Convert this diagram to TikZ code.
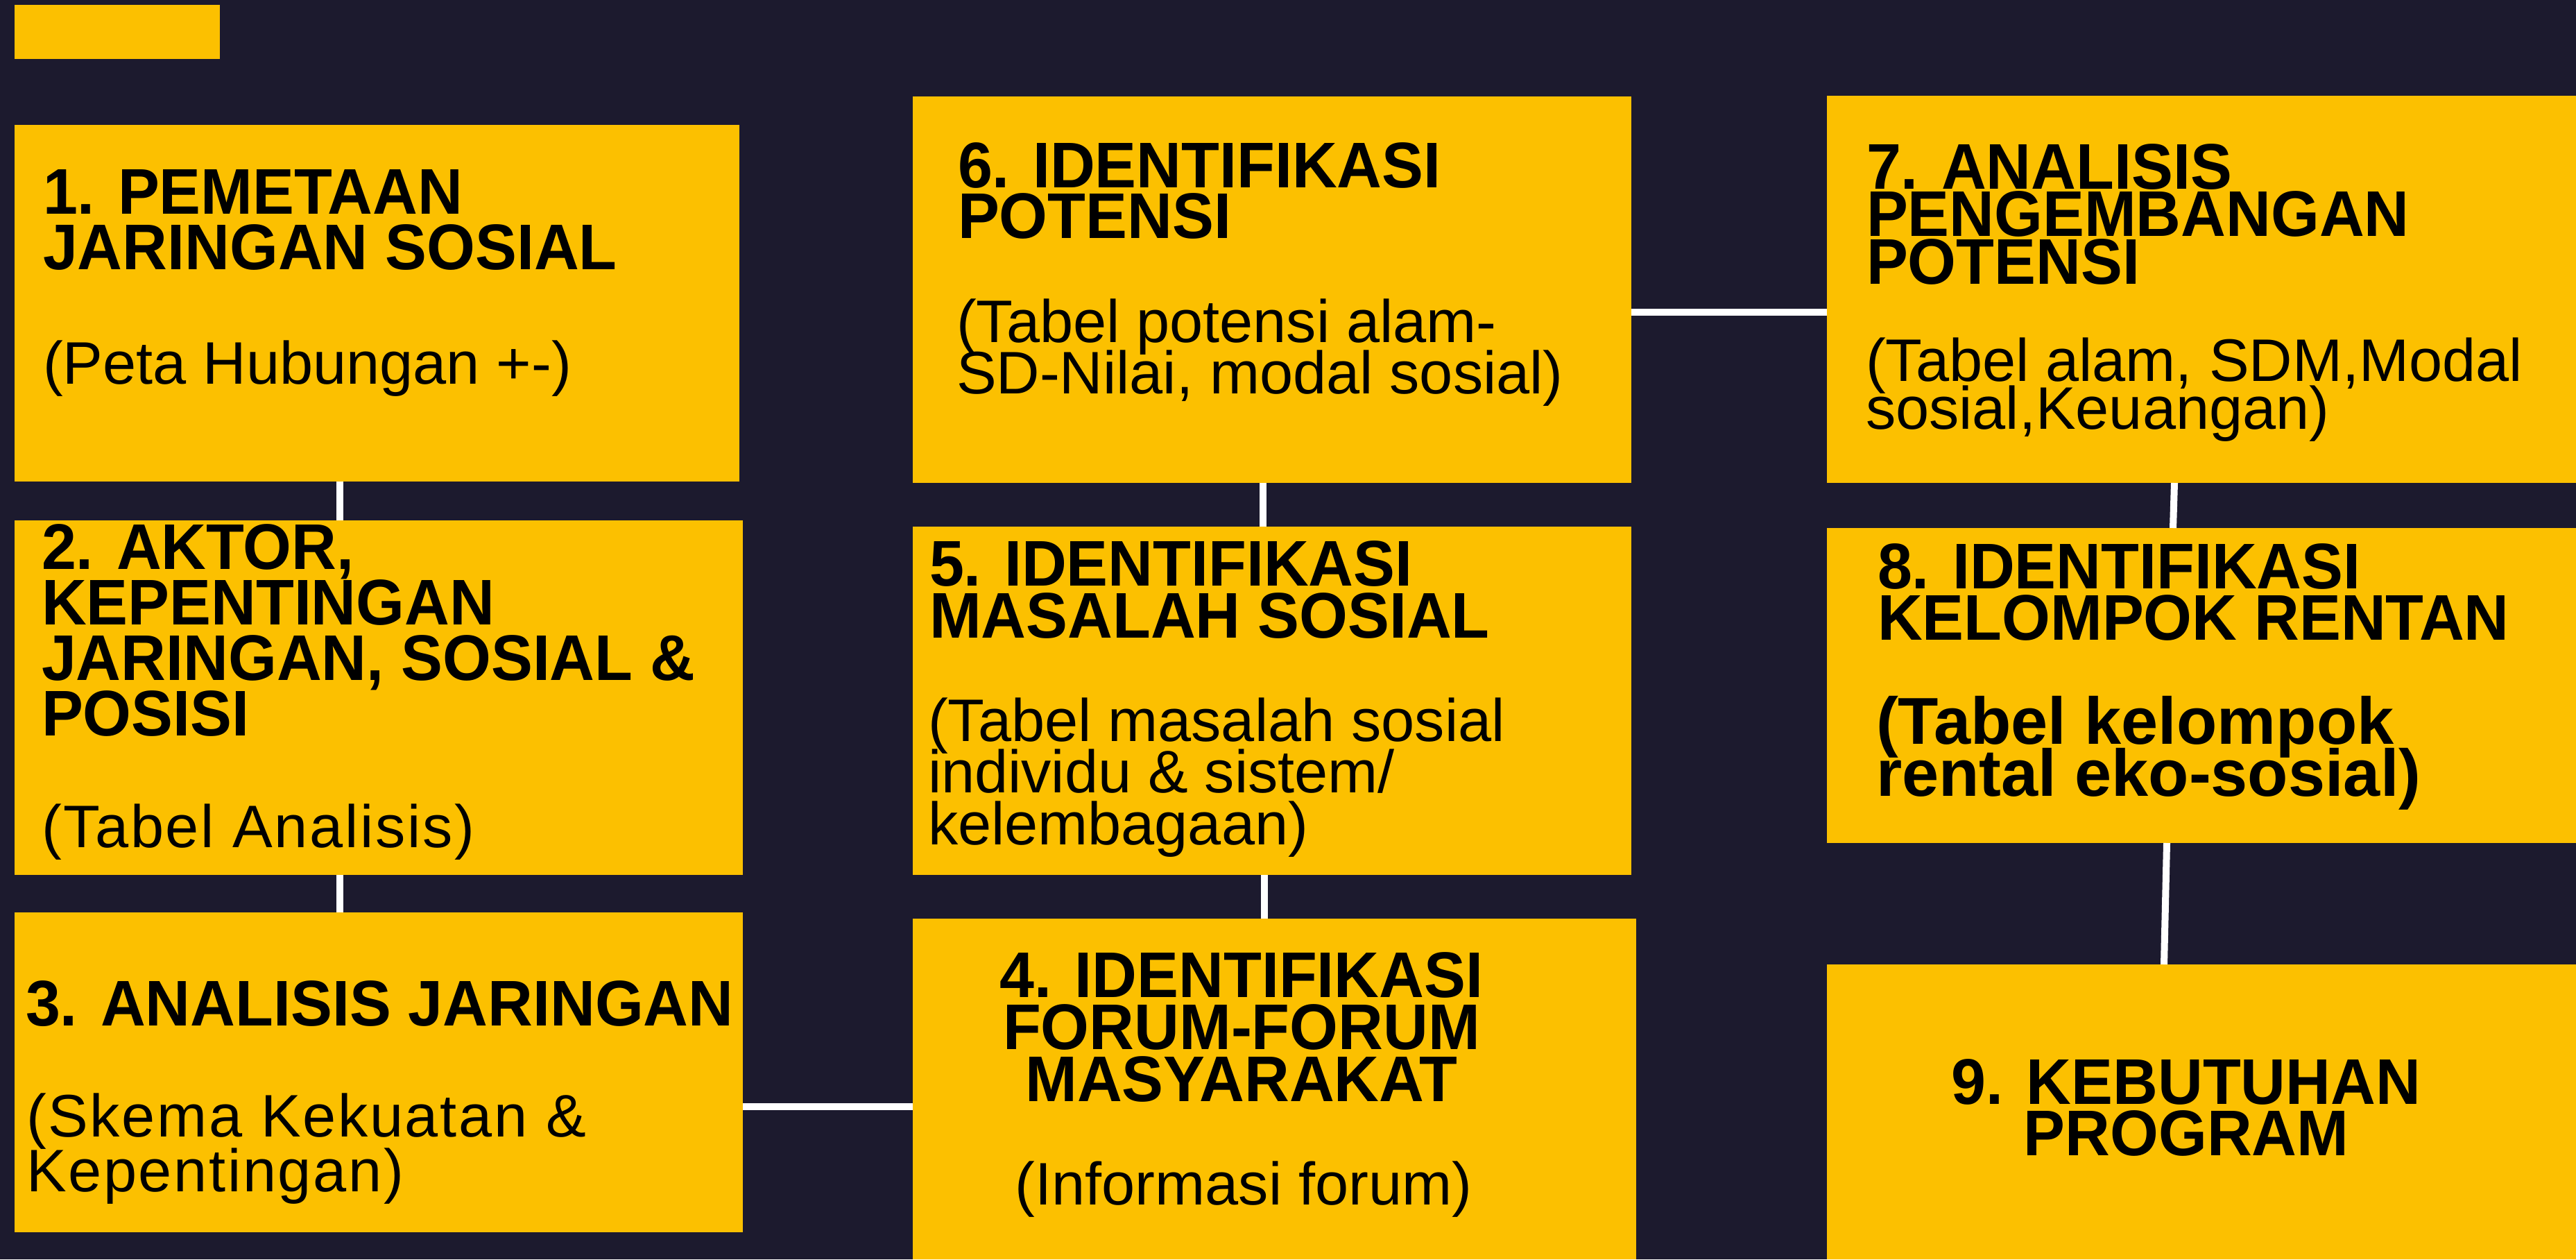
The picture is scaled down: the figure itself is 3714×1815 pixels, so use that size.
\documentclass[tikz,border=0pt]{standalone}
\usepackage{fontspec}
\setmainfont{Liberation Sans}
\newfontfamily\titlefont{Liberation Sans}[FakeStretch=0.965]
\newfontfamily\plainfont{Liberation Sans}
\newfontfamily\widefont{Liberation Sans}[LetterSpace=3.1]
\definecolor{bgnavy}{RGB}{28,26,46}
\definecolor{boxyellow}{RGB}{252,192,0}
\newcommand\topgap{\rule{0pt}{100pt}}
\lineskiplimit=-1000pt
\tikzset{
  box/.style={fill=boxyellow, draw=none, inner sep=0pt, outer sep=0pt, anchor=north west},
  conn/.style={draw=white, line width=10pt},
  ttl/.style={inner sep=0pt, outer sep=0pt, anchor=north west, align=left, text=black,
    font=\titlefont\bfseries\fontsize{93}{#1}\selectfont},
  ttl/.default=80,
  ttlc/.style={ttl=#1, anchor=north, align=center},
  ttlc/.default=75,
  desc/.style={inner sep=0pt, outer sep=0pt, anchor=north west, align=left, text=black,
    font=\plainfont\fontsize{86.5}{#1}\selectfont},
  desc/.default=75,
  descw/.style={inner sep=0pt, outer sep=0pt, anchor=north west, align=left, text=black,
    font=\widefont\fontsize{86.5}{#1}\selectfont},
  descw/.default=75,
  descc/.style={desc=#1, anchor=north, align=center},
  descc/.default=75,
  descb/.style={inner sep=0pt, outer sep=0pt, anchor=north west, align=left, text=black,
    font=\plainfont\bfseries\fontsize{95.5}{#1}\selectfont},
  descb/.default=75
}
\begin{document}
\begin{tikzpicture}[x=1pt,y=-1pt]
\lineskiplimit=-1000pt
\useasboundingbox (0,0) rectangle (3714,1815);
\fill[bgnavy] (0,0) rectangle (3714,1815);

% boxes
\node[box, minimum width=296pt, minimum height=78pt] (b0) at (21,7) {};
\node[box, minimum width=1045pt, minimum height=514pt] (b1) at (21,180) {};
\node[box, minimum width=1050pt, minimum height=511pt] (b2) at (21,750) {};
\node[box, minimum width=1050pt, minimum height=461pt] (b3) at (21,1315) {};
\node[box, minimum width=1043pt, minimum height=491pt] (b4) at (1316,1324) {};
\node[box, minimum width=1036pt, minimum height=502pt] (b5) at (1316,759) {};
\node[box, minimum width=1036pt, minimum height=557pt] (b6) at (1316,139) {};
\node[box, minimum width=1080pt, minimum height=558pt] (b7) at (2634,138) {};
\node[box, minimum width=1080pt, minimum height=454pt] (b8) at (2634,761) {};
\node[box, minimum width=1080pt, minimum height=425pt] (b9) at (2634,1390) {};

% connectors
\coordinate (cA) at (490,0);
\coordinate (cB) at (0,1595);
\coordinate (cC) at (1821,0);
\coordinate (cD) at (1823,0);
\coordinate (cE) at (0,450);
\coordinate (cF1) at (3135,0);
\coordinate (cF2) at (3133,0);
\coordinate (cG1) at (3124,0);
\coordinate (cG2) at (3120,0);
\draw[conn] (b1.south -| cA) -- (b2.north -| cA);
\draw[conn] (b2.south -| cA) -- (b3.north -| cA);
\draw[conn] (b3.east |- cB) -- (b4.west |- cB);
\draw[conn] (b6.south -| cC) -- (b5.north -| cC);
\draw[conn] (b5.south -| cD) -- (b4.north -| cD);
\draw[conn] (b6.east |- cE) -- (b7.west |- cE);
\draw[conn] (b7.south -| cF1) -- (b8.north -| cF2);
\draw[conn] (b8.south -| cG1) -- (b9.north -| cG2);

% texts
\node[ttl=80] (t1) at (62,208) {\topgap 1. PEMETAAN\\JARINGAN SOSIAL};
\node[desc] (d1) at (62,453) {\topgap(Peta Hubungan +-)};

\node[ttl=80] (t2) at (60,720) {\topgap 2. AKTOR,\\KEPENTINGAN\\JARINGAN, SOSIAL \&\\POSISI};
\node[descw] (d2) at (60,1121) {\topgap(Tabel Analisis)};

\node[ttl=80] (t3) at (37,1378) {\topgap 3. ANALISIS JARINGAN};
\node[descw=79] (d3) at (38,1538) {\topgap(Skema Kekuatan \&\\Kepentingan)};

\node[ttlc=75] (t4) at (1790,1337) {\topgap 4. IDENTIFIKASI\\FORUM-FORUM\\MASYARAKAT};
\node[descc] (d4) at (1793,1636) {\topgap(Informasi forum)};

\node[ttl=75] (t5) at (1340,744) {\topgap 5. IDENTIFIKASI\\MASALAH SOSIAL};
\node[desc=74.5] (d5) at (1338,968) {\topgap(Tabel masalah sosial\\individu \& sistem/\\kelembagaan)};

\node[ttl=73] (t6) at (1381,170) {\topgap 6. IDENTIFIKASI\\POTENSI};
\node[desc=74] (d6) at (1379,393) {\topgap(Tabel potensi alam-\\SD-Nilai, modal sosial)};

\node[ttl=68.5] (t7) at (2691,172) {\topgap 7. ANALISIS\\PENGEMBANGAN\\POTENSI};
\node[desc=69] (d7) at (2690,449) {\topgap(Tabel alam, SDM,Modal\\sosial,Keuangan)};

\node[ttl=74] (t8) at (2707,748) {\topgap 8. IDENTIFIKASI\\KELOMPOK RENTAN};
\node[descb=75] (d8) at (2705,972) {\topgap(Tabel kelompok\\rental eko-sosial)};

\node[ttlc=74] (t9) at (3152,1491) {\topgap 9. KEBUTUHAN\\PROGRAM};
\end{tikzpicture}
\end{document}
